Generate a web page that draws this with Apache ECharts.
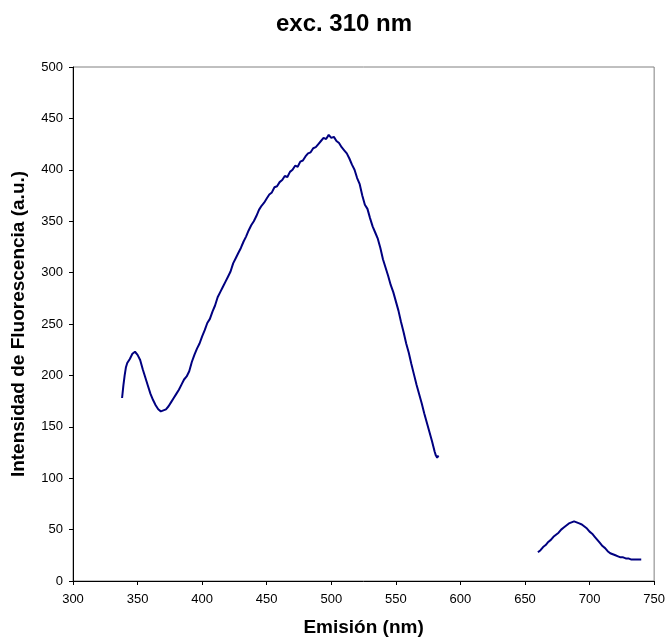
<!DOCTYPE html>
<html>
<head>
<meta charset="utf-8">
<script src="https://cdn.jsdelivr.net/npm/echarts@6/dist/echarts.min.js"></script>
<style>
  html, body { margin: 0; padding: 0; background: #fff; }
  #chart { width: 668px; height: 644px; }
</style>
</head>
<body>
<div id="chart"></div>
<script>
// Emission spectrum, excitation at 310 nm
const titleText = 'exc. 310 nm';
const xName = 'Emisión (nm)';
const yName = 'Intensidad de Fluorescencia (a.u.)';

// main band (nm)
const bandAWavelength = [338, 339, 340, 341, 342, 344, 346, 348, 349, 350, 352, 354, 356, 358, 360, 362, 364, 366, 368, 369,
  370, 372, 374, 376, 378, 380, 382, 384, 386, 388, 390, 392, 394, 396, 398, 400, 402, 404, 406, 408,
  410, 412, 414, 416, 418, 420, 422, 424, 426, 428, 430, 432, 434, 436, 438, 440, 442, 444, 446, 448,
  450, 452, 454, 456, 458, 460, 462, 464, 466, 468, 470, 472, 474, 476, 478, 480, 482, 484, 486, 488,
  490, 492, 494, 496, 498, 500, 502, 504, 506, 508, 510, 512, 514, 516, 518, 520, 522, 524, 526, 528,
  530, 532, 534, 536, 538, 540, 542, 544, 546, 548, 550, 552, 554, 556, 558, 560, 562, 564, 566, 568,
  570, 572, 574, 576, 578, 580, 581, 582, 583];
const bandAIntensity = [178, 190, 200, 208, 212, 216, 221, 223, 222, 220, 215, 206, 198, 190, 182, 176, 171, 167, 165, 164,
  166, 167, 170, 174, 178, 182, 186, 191, 196, 199, 204, 213, 220, 226, 231, 238, 244, 251, 255, 262,
  268, 276, 281, 286, 291, 296, 301, 309, 314, 319, 324, 330, 335, 341, 346, 350, 355, 361, 365, 368,
  372, 376, 378, 383, 384, 388, 390, 394, 393, 398, 400, 404, 403, 408, 409, 413, 416, 417, 421, 422,
  425, 428, 431, 430, 434, 431, 432, 428, 426, 422, 419, 416, 411, 405, 400, 392, 386, 375, 366, 362,
  353, 345, 339, 333, 324, 313, 305, 297, 288, 281, 272, 263, 252, 242, 231, 222, 211, 201, 191, 182,
  173, 163, 154, 145, 136, 126, 122, 120, 122];

// long-wavelength band (nm)
const bandBWavelength = [660, 662, 664, 666, 668, 670, 672, 674, 676, 678, 680, 682, 684, 686, 688, 690, 692, 694, 696, 698,
  700, 702, 704, 706, 708, 710, 712, 714, 716, 718, 720, 722, 724, 726, 728, 730, 732, 734, 736, 738, 740];
const bandBIntensity = [28, 30, 33, 35, 38, 40, 43, 45, 47, 50, 52, 54, 56, 57, 58, 57, 56, 55, 53, 51,
  48, 46, 43, 40, 37, 34, 32, 29, 27, 26, 25, 24, 23, 23, 22, 22, 21, 21, 21, 21, 21];

const xTicks = { min: 300, max: 750, step: 50 };
const yTicks = { min: 0, max: 500, step: 50 };

const pairs = (xs, ys) => xs.map((x, i) => [x, ys[i]]);
const font = '"Liberation Sans", Arial, sans-serif';
const lineColor = '#000080';

const chart = echarts.init(document.getElementById('chart'), null, { renderer: 'canvas' });
chart.setOption({
  animation: false,
  backgroundColor: '#ffffff',
  title: {
    text: titleText,
    left: 339,
    top: 7,
    textAlign: 'center',
    textStyle: { fontFamily: font, fontSize: 24, fontWeight: 'bold', color: '#000' }
  },
  grid: {
    left: 73, right: 12, top: 67, bottom: 63,
    show: true, borderColor: '#808080', borderWidth: 1, backgroundColor: 'transparent'
  },
  xAxis: {
    type: 'value',
    min: xTicks.min, max: xTicks.max, interval: xTicks.step,
    name: xName,
    nameLocation: 'middle',
    nameGap: 37,
    nameTextStyle: { fontFamily: font, fontSize: 19, fontWeight: 'bold', color: '#000' },
    axisLine: { show: true, onZero: false, lineStyle: { color: '#000', width: 1 } },
    axisTick: { show: true, inside: false, length: 4, lineStyle: { color: '#000' } },
    axisLabel: { fontFamily: font, fontSize: 13, color: '#000', margin: 12 },
    splitLine: { show: false }
  },
  yAxis: {
    type: 'value',
    min: yTicks.min, max: yTicks.max, interval: yTicks.step,
    name: yName,
    nameLocation: 'middle',
    nameGap: 45,
    nameRotate: 90,
    nameTextStyle: { fontFamily: font, fontSize: 19, fontWeight: 'bold', color: '#000' },
    axisLine: { show: true, lineStyle: { color: '#000', width: 1 } },
    axisTick: { show: true, inside: false, length: 4, lineStyle: { color: '#000' } },
    axisLabel: { fontFamily: font, fontSize: 13, color: '#000', margin: 10 },
    splitLine: { show: false }
  },
  series: [
    {
      type: 'line',
      data: pairs(bandAWavelength, bandAIntensity),
      showSymbol: false,
      smooth: false,
      lineStyle: { color: lineColor, width: 2 },
      itemStyle: { color: lineColor }
    },
    {
      type: 'line',
      data: pairs(bandBWavelength, bandBIntensity),
      showSymbol: false,
      smooth: false,
      lineStyle: { color: lineColor, width: 2 },
      itemStyle: { color: lineColor }
    }
  ]
});
</script>
</body>
</html>
